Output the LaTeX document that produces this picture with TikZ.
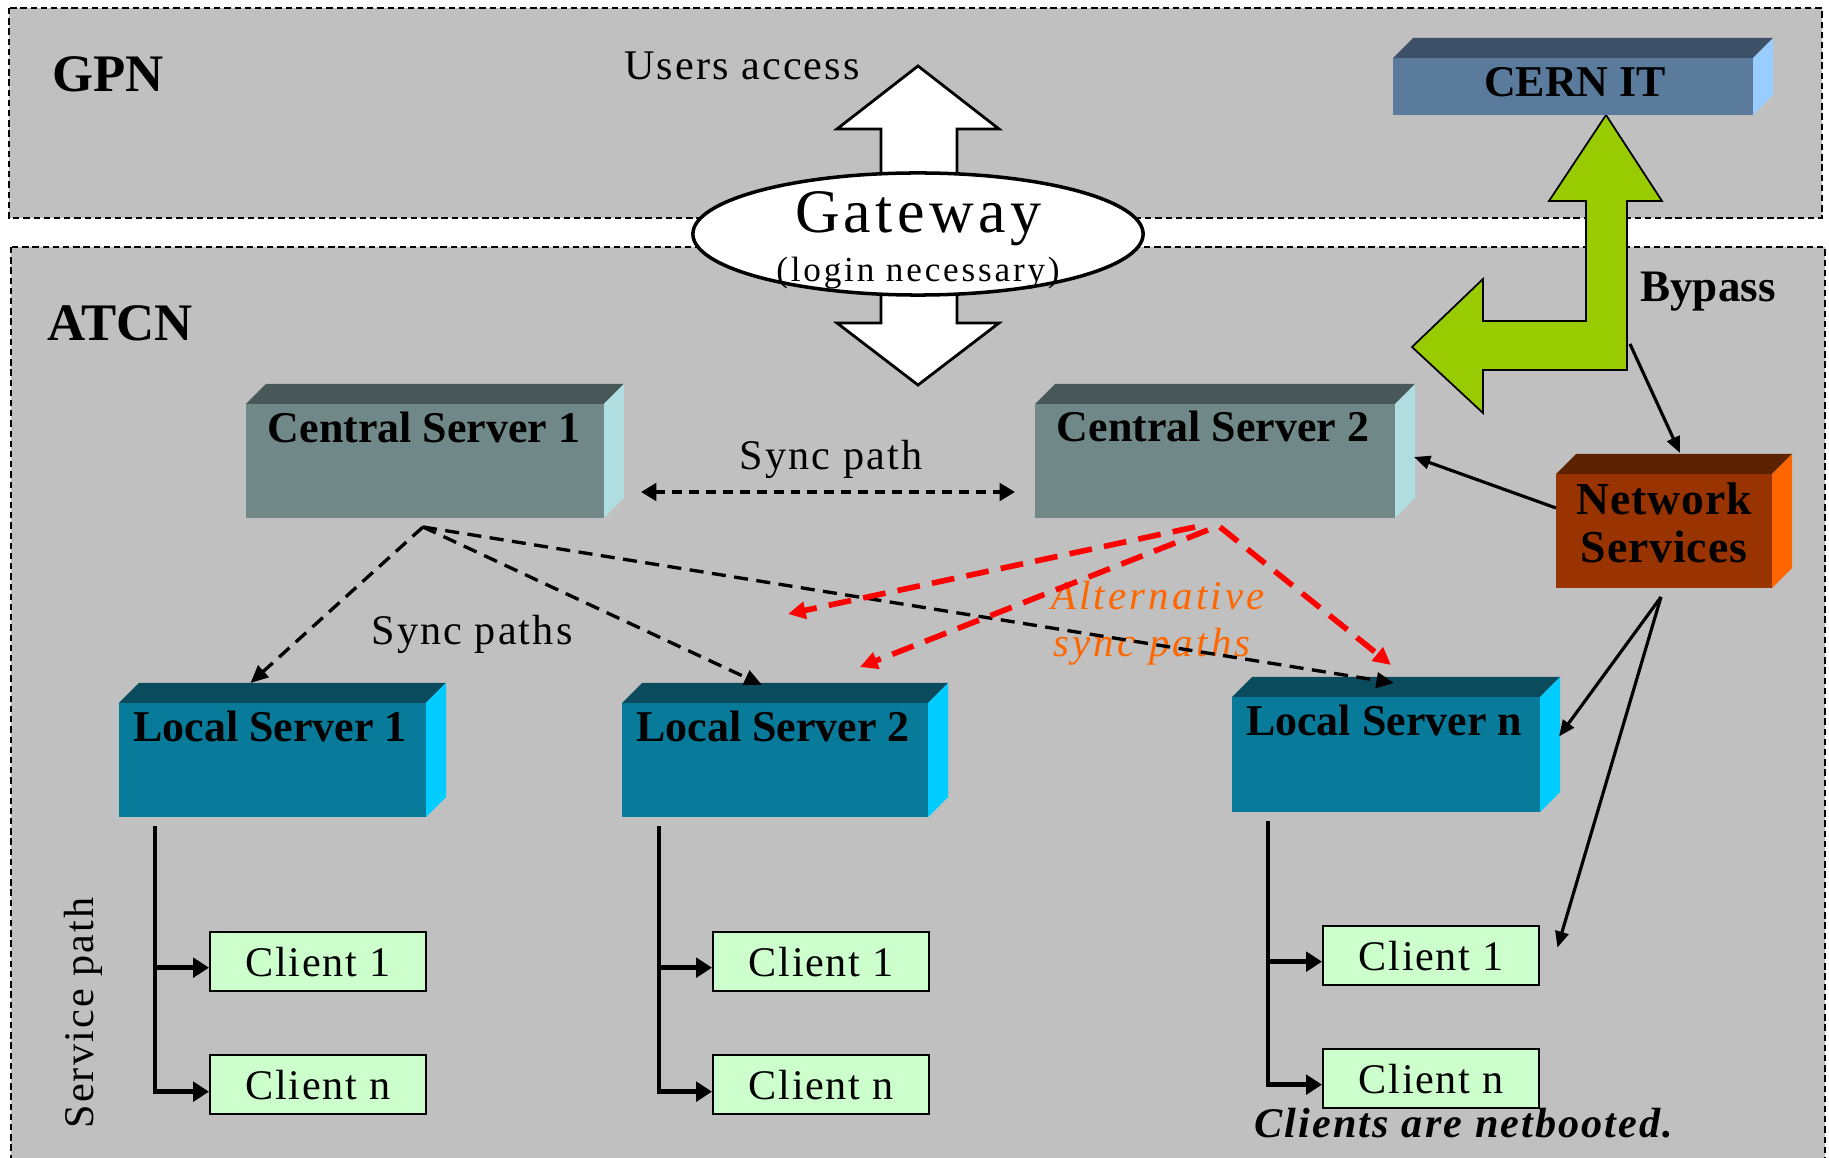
\documentclass[tikz,border=0pt]{standalone}
\usepackage{fontspec}
\setmainfont{Liberation Serif}
\usetikzlibrary{shapes.geometric,arrows.meta,calc}

\definecolor{bggray}{HTML}{C0C0C0}
\definecolor{csfront}{HTML}{708888}
\definecolor{cstop}{HTML}{485859}
\definecolor{csside}{HTML}{B0DDE0}
\definecolor{lsfront}{HTML}{087A9A}
\definecolor{lstop}{HTML}{0A4C5E}
\definecolor{lsside}{HTML}{00CCFF}
\definecolor{cernfront}{HTML}{5A7B9C}
\definecolor{cerntop}{HTML}{3D5068}
\definecolor{cernside}{HTML}{99CCFF}
\definecolor{nsfront}{HTML}{993300}
\definecolor{nstop}{HTML}{5C2200}
\definecolor{nsside}{HTML}{FF6600}
\definecolor{bypassgreen}{HTML}{99CC00}
\definecolor{clientgreen}{HTML}{CCFFCC}
\definecolor{altorange}{HTML}{FF6600}
\definecolor{altred}{HTML}{FF0000}

\newcommand\fsz[1]{\fontsize{#1}{#1}\selectfont}
\newcommand\lsp[1]{\addfontfeature{LetterSpace=#1}}

% name, x, y (top-left of front face, px), width px, height px, front, top, side
\newcommand\srvbox[8]{%
  \node[fill=#6, draw=none, inner sep=0pt, outer sep=0pt, anchor=north west,
        minimum width=#4*0.01cm, minimum height=#5*0.01cm] (#1) at (#2,#3) {};
  \fill[#7] (#1.north west) -- ++(20,-20) -- ($(#1.north east)+(20,-20)$) -- (#1.north east) -- cycle;
  \fill[#8] (#1.north east) -- ++(20,-20) -- ($(#1.south east)+(20,-20)$) -- (#1.south east) -- cycle;
}

\tikzset{
  zone/.style={draw=black, fill=bggray, line width=0.6pt, dash pattern=on 1.8pt off 1.1pt},
  srvlabel/.style={font=\bfseries\fsz{12.5}, anchor=base, inner sep=0pt},
  client/.style={draw=black, fill=clientgreen, line width=0.65pt, anchor=north west,
        minimum width=2.16cm, minimum height=0.59cm, inner sep=0pt, font=\fsz{12}\lsp{4}},
  svcline/.style={line width=1.25pt, -{Triangle[length=4.5pt,width=5.5pt]}},
  syncdash/.style={line width=0.95pt, dash pattern=on 4pt off 2.4pt, -{Triangle[length=5pt,width=4.4pt]}},
  altdash/.style={altred, line width=1.6pt, dash pattern=on 6.5pt off 3.5pt, -{Triangle[length=5pt,width=4.8pt]}},
  syncpair/.style={line width=1.4pt, dash pattern=on 2.8pt off 2pt, {Triangle[length=4.4pt,width=5pt]}-{Triangle[length=4.4pt,width=5pt]}},
  nsarrow/.style={line width=0.9pt, -{Triangle[length=4.6pt,width=3.8pt]}},
  plain/.style={inner sep=0pt, anchor=base}
}

\begin{document}
\begin{tikzpicture}[x=0.01cm,y=-0.01cm]
\useasboundingbox (0,0) rectangle (1829,1158);
\fill[white] (0,0) rectangle (1829,1158);
\begin{scope}
  \clip (0,0) rectangle (1829,1158);
  \draw[zone] (9,8) rectangle (1822,218);
  \draw[zone] (11,247) rectangle (1825,1180);
\end{scope}

% zone titles
\node[plain, font=\bfseries\fsz{15}] (gpn) at (108,92) {GPN};
\node[plain, font=\bfseries\fsz{15}] (atcn) at (120,341) {ATCN};
\node[plain, font=\fsz{12}\lsp{5}] (users) at (742,80) {Users access};

% users access double arrow
\draw[fill=white, line width=0.8pt] (918,66) -- (999,129) -- (957,129) -- (957,323) -- (999,323)
  -- (918,385) -- (837,323) -- (881,323) -- (881,129) -- (837,129) -- cycle;

% gateway
\node[ellipse, draw, line width=1pt, fill=white, minimum width=4.5cm, minimum height=1.22cm, inner sep=0pt] (gw) at (918,234) {};
\node[plain, font=\fsz{17.6}\lsp{7}] (gwt) at (918,233) {Gateway};
\node[plain, font=\fsz{10}\lsp{8}] (gwl) at (918,282) {(login necessary)};

% bypass arrow
\draw[fill=bypassgreen, line width=0.5pt] (1606,115) -- (1662,201) -- (1627,201) -- (1627,370) -- (1483,370)
  -- (1483,413) -- (1412,347) -- (1483,279) -- (1483,321) -- (1586,321) -- (1586,201) -- (1549,201) -- cycle;
\coordinate (bp) at (1630,344);
\node[plain, font=\bfseries\fsz{12.8}] (bypass) at (1708,302) {Bypass};

% boxes
\srvbox{cern}{1393}{58}{360}{57}{cernfront}{cerntop}{cernside}
\srvbox{ns}{1556}{474}{216}{114}{nsfront}{nstop}{nsside}
\srvbox{cs1}{246}{404}{358}{114}{csfront}{cstop}{csside}
\srvbox{cs2}{1035}{404}{360}{114}{csfront}{cstop}{csside}
\srvbox{ls1}{119}{703}{307}{114}{lsfront}{lstop}{lsside}
\srvbox{ls2}{622}{703}{306}{114}{lsfront}{lstop}{lsside}
\srvbox{lsn}{1232}{697}{308}{115}{lsfront}{lstop}{lsside}

\node[plain, font=\bfseries\fsz{12.5}] (cernt) at (1575,97) {CERN IT};
\node[plain, font=\bfseries\fsz{13}\lsp{2}] (nst1) at (1664,515) {Network};
\node[plain, font=\bfseries\fsz{13}\lsp{2}] (nst2) at (1664,563) {Services};
\node[srvlabel] (cs1t) at (424,443) {Central Server 1};
\node[srvlabel] (cs2t) at (1213,442) {Central Server 2};
\node[srvlabel] (ls1t) at (270,742) {Local Server 1};
\node[srvlabel] (ls2t) at (773,742) {Local Server 2};
\node[srvlabel] (lsnt) at (1384,736) {Local Server n};

% path labels
\node[plain, font=\fsz{12}\lsp{5}] (syncp) at (831,470) {Sync path};
\node[plain, font=\fsz{12}\lsp{5}] (syncps) at (472,645) {Sync paths};
\node[plain, font=\itshape\fsz{11.6}\lsp{8}, text=altorange] (alt1) at (1158,610) {Alternative};
\node[plain, font=\itshape\fsz{11.6}\lsp{8}, text=altorange] (alt2) at (1152,657) {sync paths};

% clients
\node[client] (c11) at (209,931) {Client 1};
\node[client] (c1n) at (209,1054) {Client n};
\node[client] (c21) at (712,931) {Client 1};
\node[client] (c2n) at (712,1054) {Client n};
\node[client] (cn1) at (1322,925) {Client 1};
\node[client] (cnn) at (1322,1048) {Client n};

\node[inner sep=0pt, rotate=90, font=\fsz{12}\lsp{5}] (svc) at (83,1013) {Service path};
\node[plain, font=\bfseries\itshape\fsz{12}\lsp{5}] (netb) at (1464,1138) {Clients are netbooted.};

% service paths
\coordinate (t1) at ([shift={(36,9)}]ls1.south west);
\coordinate (t2) at ([shift={(37,9)}]ls2.south west);
\coordinate (t3) at ([shift={(36,9)}]lsn.south west);
\draw[svcline] (t1) |- ([shift={(0,7)}]c1n.west);
\draw[svcline] ($(t1 |- c11.west)+(0,6)$) -- ([shift={(0,6)}]c11.west);
\draw[svcline] (t2) |- ([shift={(0,7)}]c2n.west);
\draw[svcline] ($(t2 |- c21.west)+(0,6)$) -- ([shift={(0,6)}]c21.west);
\draw[svcline] (t3) |- ([shift={(0,6)}]cnn.west);
\draw[svcline] ($(t3 |- cn1.west)+(0,6)$) -- ([shift={(0,6)}]cn1.west);

% sync paths
\draw[syncpair] ([shift={(37,31)}]cs1.east) -- ([shift={(-20,31)}]cs2.west);
\coordinate (s1) at ([shift={(-2,9)}]cs1.south);
\draw[syncdash] (s1) -- ([shift={(-22,-20)}]ls1.north);
\draw[syncdash] (s1) -- ([shift={(-13,-18)}]ls2.north);
\draw[syncdash] (s1) -- ([shift={(8,-14)}]lsn.north);

% alternative sync paths
\coordinate (altend) at (788,614);
\draw[altdash] ([shift={(-20,9)}]cs2.south) -- (altend);
\draw[altdash] ([shift={(-7,12)}]cs2.south) -- ([shift={(85,-36)}]ls2.north);
\draw[altdash] ([shift={(5,9)}]cs2.south) -- ([shift={(5,-32)}]lsn.north);

% network services
\draw[nsarrow] (bp) -- ([shift={(16,-21)}]ns.north);
\draw[nsarrow] ([shift={(0,-23)}]ns.west) -- ([shift={(19,-4)}]cs2.east);
\draw[nsarrow] ([shift={(-3,9)}]ns.south) -- ([shift={(19,-18)}]lsn.east);
\draw[nsarrow] ([shift={(-3,9)}]ns.south) -- ([shift={(17,-8)}]cn1.east);
\end{tikzpicture}
\end{document}
